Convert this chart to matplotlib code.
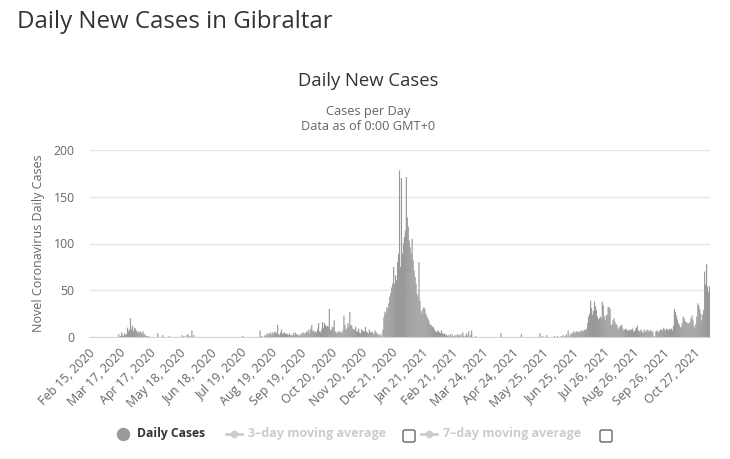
import matplotlib.pyplot as plt
import matplotlib.transforms as mtransforms
import numpy as np
import pandas as pd
from matplotlib.lines import Line2D
from matplotlib.patches import FancyBboxPatch

plt.rcParams['font.family'] = ['Open Sans', 'DejaVu Sans']

# daily new cases
feb_2020 = [0] * 15
mar_2020 = [0, 0, 0, 0, 0, 0, 0, 0, 0, 0,
            0, 0, 0, 0, 3, 0, 1, 5, 2, 1,
            4, 2, 3, 10, 6, 8, 20, 8, 12, 6, 10]
apr_2020 = [9, 7, 5, 6, 4, 6, 5, 3, 6, 2,
            3, 1, 1, 0, 1, 0, 0, 0, 0, 0,
            0, 0, 0, 4, 0, 0, 0, 0, 2, 0]
may_2020 = [0, 0, 0, 0, 0, 1, 0, 0, 0, 0,
            0, 0, 0, 0, 0, 0, 0, 0, 2, 0,
            1, 0, 0, 2, 3, 0, 1, 0, 7, 0, 2]
jun_2020 = [0] * 30
jul_2020 = [0, 0, 0, 0, 0, 0, 0, 0, 0, 0,
            0, 0, 0, 0, 0, 0, 0, 0, 0, 1,
            0, 0, 0, 0, 0, 0, 0, 0, 0, 0, 0]
aug_2020 = [0, 0, 0, 0, 0, 0, 7, 0, 1, 0,
            0, 2, 1, 4, 2, 4, 3, 5, 2, 5,
            3, 6, 5, 4, 13, 3, 2, 5, 8, 3, 4]
sep_2020 = [5, 3, 4, 3, 2, 4, 2, 2, 1, 4,
            2, 5, 3, 3, 2, 1, 3, 2, 4, 5,
            3, 4, 5, 6, 5, 8, 4, 9, 13, 6]
oct_2020 = [7, 5, 6, 5, 9, 15, 6, 5, 8, 16,
            10, 15, 13, 11, 12, 11, 30, 8, 7, 11,
            10, 18, 6, 5, 4, 6, 5, 6, 5, 4, 7]
nov_2020 = [23, 13, 8, 9, 15, 11, 27, 12, 13, 9,
            8, 8, 11, 6, 6, 9, 5, 4, 8, 7,
            6, 6, 11, 6, 5, 4, 8, 5, 5, 6]
dec_2020 = [3, 4, 7, 5, 4, 2, 3, 1, 3, 0,
            8, 21, 27, 25, 32, 30, 36, 43, 47, 53,
            57, 75, 57, 66, 61, 80, 89, 178, 75, 170, 89]
jan_2021 = [100, 107, 114, 171, 128, 118, 103, 96, 89, 105,
            82, 71, 64, 57, 46, 43, 80, 39, 28, 25,
            30, 32, 30, 25, 22, 20, 18, 14, 13, 12, 11]
feb_2021 = [10, 8, 6, 5, 7, 6, 5, 4, 7, 4,
            3, 4, 2, 3, 1, 2, 0, 3, 1, 3,
            0, 1, 2, 0, 2, 3, 1, 2]
mar_2021 = [3, 0, 5, 1, 0, 2, 4, 1, 6, 0,
            2, 7, 0, 0, 0, 1, 0, 0, 0, 0,
            0, 0, 0, 0, 0, 0, 0, 0, 0, 0, 0]
apr_2021 = [0, 0, 0, 0, 0, 0, 0, 0, 0, 0,
            4, 0, 0, 0, 0, 0, 0, 0, 0, 0,
            0, 0, 0, 0, 0, 0, 0, 0, 0, 0]
may_2021 = [0, 3, 0, 0, 0, 0, 0, 0, 0, 0,
            0, 0, 0, 0, 0, 0, 0, 0, 0, 0,
            4, 0, 0, 1, 0, 0, 0, 2, 0, 0, 0]
jun_2021 = [0, 0, 0, 0, 1, 0, 0, 1, 0, 0,
            0, 1, 0, 2, 0, 1, 3, 0, 7, 0,
            2, 4, 3, 5, 6, 4, 5, 6, 6, 5]
jul_2021 = [5, 7, 6, 7, 6, 8, 7, 9, 15, 22,
            25, 39, 31, 24, 28, 38, 33, 29, 22, 19,
            20, 22, 20, 38, 34, 22, 18, 23, 24, 32, 32]
aug_2021 = [30, 13, 13, 18, 20, 16, 14, 13, 10, 8,
            11, 12, 13, 9, 7, 8, 9, 8, 7, 7,
            8, 7, 8, 9, 6, 6, 8, 10, 12, 7, 6]
sep_2021 = [7, 8, 5, 5, 8, 6, 6, 8, 7, 6,
            7, 7, 6, 5, 1, 0, 6, 7, 6, 5,
            7, 8, 8, 7, 10, 8, 7, 9, 8, 7]
oct_2021 = [9, 8, 9, 7, 12, 30, 27, 23, 19, 15,
            13, 10, 11, 15, 22, 20, 17, 16, 15, 14,
            15, 16, 20, 23, 18, 12, 9, 14, 22, 36, 34]
nov_2021 = [30, 25, 18, 24, 29, 70, 56, 78, 54, 48, 54]

months = [feb_2020, mar_2020, apr_2020, may_2020, jun_2020, jul_2020,
          aug_2020, sep_2020, oct_2020, nov_2020, dec_2020, jan_2021,
          feb_2021, mar_2021, apr_2021, may_2021, jun_2021, jul_2021,
          aug_2021, sep_2021, oct_2021, nov_2021]
cases = np.array(sum(months, []))
dates = pd.date_range('2020-02-15', periods=len(cases), freq='D')
x = np.arange(len(cases))

fig = plt.figure(figsize=(7.3, 4.59), dpi=100)
W, H = 730, 459
ax = fig.add_axes([90 / W, 1 - 337 / H, 620 / W, 187 / H])

ax.bar(x, cases, width=1.2, color='#999999', linewidth=0, snap=False)
ax.set_xlim(-0.5, len(cases) - 0.5)
ax.set_ylim(0, 200)
ax.set_yticks([0, 50, 100, 150, 200])
ax.yaxis.grid(True, color='#e6e6e6', linewidth=1)
ax.set_axisbelow(True)
for s in ['top', 'right', 'left']:
    ax.spines[s].set_visible(False)
ax.spines['bottom'].set_color('#ccd6eb')
ax.tick_params(axis='y', length=0, pad=11, labelsize=8.8, labelcolor='#666666')

ticks = np.arange(0, len(cases), 31)
ax.set_xticks(ticks)
ax.set_xticklabels([dates[i].strftime('%b %d, %Y') for i in ticks],
                   rotation=45, ha='right', va='center', rotation_mode='anchor',
                   fontsize=8.9, color='#666666')
ax.tick_params(axis='x', length=0, pad=10)
shift = mtransforms.ScaledTranslation(3 / 100, 0, fig.dpi_scale_trans)
for lab in ax.get_xticklabels():
    lab.set_transform(lab.get_transform() + shift)

ax.set_ylabel('Novel Coronavirus Daily Cases', fontsize=9, color='#666666')
ax.yaxis.set_label_coords(-0.073, 0.5)

# titles
fig.text(17 / W, 1 - 22 / H, 'Daily New Cases in Gibraltar', fontsize=17.3,
         color='#333333', va='center', ha='left')
fig.text(368 / W, 1 - 81 / H, 'Daily New Cases', fontsize=13.3,
         color='#333333', va='center', ha='center')
fig.text(368 / W, 1 - 112 / H, 'Cases per Day', fontsize=9.2,
         color='#666666', va='center', ha='center')
fig.text(368 / W, 1 - 127 / H, 'Data as of 0:00 GMT+0', fontsize=9.2,
         color='#666666', va='center', ha='center')

# legend
ly = 1 - 434 / H
fig.add_artist(Line2D([123 / W], [ly], marker='o', markersize=8.6,
                      color='#999999', transform=fig.transFigure))
fig.text(137 / W, ly, 'Daily Cases', fontsize=8.7, fontweight='bold',
         color='#333333', va='center', ha='left')
for x0, label, bx in [(226, '3\u2013day moving average', 403),
                      (421, '7\u2013day moving average', 600)]:
    fig.add_artist(Line2D([x0 / W, (x0 + 16) / W], [ly, ly], color='#cccccc',
                          linewidth=2, transform=fig.transFigure))
    fig.add_artist(Line2D([(x0 + 8) / W], [ly], marker='o', markersize=4.5,
                          color='#cccccc', transform=fig.transFigure))
    fig.text((x0 + 22) / W, ly, label, fontsize=9, fontweight='bold',
             color='#cccccc', va='center', ha='left')
    fig.add_artist(FancyBboxPatch((bx / W, 1 - 442 / H), 12 / W, 12 / H,
                                  boxstyle='round,pad=0,rounding_size=0.003',
                                  facecolor='white', edgecolor='#555555',
                                  linewidth=0.9, transform=fig.transFigure))

fig.savefig('out.png', dpi=100)
